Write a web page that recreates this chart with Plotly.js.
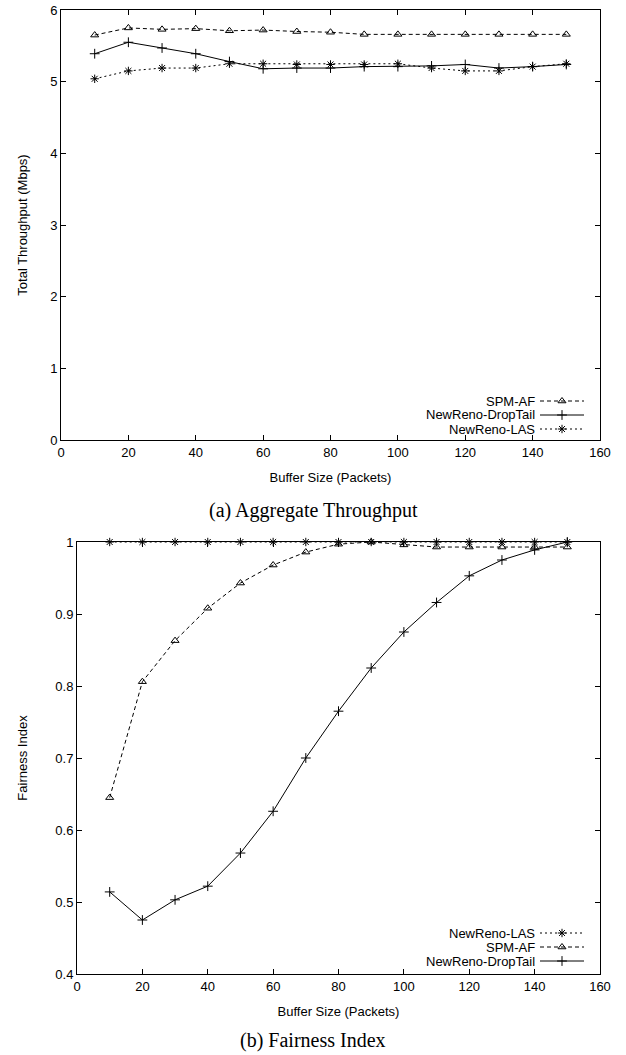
<!DOCTYPE html>
<html>
<head>
<meta charset="utf-8">
<script src="https://cdn.plot.ly/plotly-3.0.1.min.js"></script>
<style>html,body{margin:0;padding:0;background:#fff;}#chart{width:626px;height:1055px;}</style>
</head>
<body>
<div id="chart"></div>
<script>
// ---- data ----
const bufferSizes = [10, 20, 30, 40, 50, 60, 70, 80, 90, 100, 110, 120, 130, 140, 150];

const spmAfThroughput    = [5.65, 5.75, 5.73, 5.74, 5.71, 5.72, 5.70, 5.69, 5.66, 5.66, 5.66, 5.66, 5.66, 5.66, 5.66];
const dropTailThroughput = [5.39, 5.55, 5.47, 5.39, 5.28, 5.18, 5.19, 5.19, 5.21, 5.21, 5.22, 5.24, 5.19, 5.21, 5.24];
const lasThroughput      = [5.04, 5.15, 5.19, 5.19, 5.25, 5.25, 5.24, 5.24, 5.24, 5.25, 5.19, 5.15, 5.15, 5.21, 5.25];

const lasFairness      = [1.0, 1.0, 1.0, 1.0, 1.0, 1.0, 1.0, 1.0, 1.0, 1.0, 1.0, 1.0, 1.0, 1.0, 1.0];
const spmAfFairness    = [0.645, 0.806, 0.863, 0.908, 0.943, 0.968, 0.986, 0.997, 1.0, 0.996, 0.993, 0.993, 0.993, 0.993, 0.993];
const dropTailFairness = [0.514, 0.475, 0.503, 0.522, 0.568, 0.626, 0.700, 0.765, 0.825, 0.875, 0.916, 0.953, 0.975, 0.989, 1.0];

const xTicks = [0, 20, 40, 60, 80, 100, 120, 140, 160];
const yTicksTop = [0, 1, 2, 3, 4, 5, 6];
const yTicksBottom = [0.4, 0.5, 0.6, 0.7, 0.8, 0.9, 1];

const seriesNames = { spm: 'SPM-AF', drop: 'NewReno-DropTail', las: 'NewReno-LAS' };
const topLegendOrder = ['spm', 'drop', 'las'];
const bottomLegendOrder = ['las', 'spm', 'drop'];

// ---- styles ----
const W = 626, H = 1055;
const SANS = 'Liberation Sans, Arial, Helvetica, sans-serif';
const SERIF = 'Liberation Serif, Times New Roman, serif';
const styles = {
  spm:  { dash: '4px,3px', symbol: 'triangle-up-open', size: 7 },
  drop: { dash: 'solid',   symbol: 'cross-thin-open',  size: 7 },
  las:  { dash: '2px,3px', symbol: 'asterisk-open',    size: 7 }
};

function series(key, ys, xa, ya) {
  const s = styles[key];
  return {
    x: bufferSizes, y: ys, xaxis: xa, yaxis: ya, name: seriesNames[key],
    type: 'scatter', mode: 'lines+markers', showlegend: false, cliponaxis: false,
    line: { color: '#000', width: 1, dash: s.dash },
    marker: { symbol: s.symbol, size: s.size, color: '#000', line: { color: '#000', width: 1 } }
  };
}

const traces = [
  series('spm', spmAfThroughput, 'x', 'y'),
  series('drop', dropTailThroughput, 'x', 'y'),
  series('las', lasThroughput, 'x', 'y'),
  series('las', lasFairness, 'x2', 'y2'),
  series('spm', spmAfFairness, 'x2', 'y2'),
  series('drop', dropTailFairness, 'x2', 'y2')
];

// ---- custom legends (text left of sample, gnuplot style) ----
const annotations = [];
function addLegend(order, rowY) {
  order.forEach((key, i) => {
    const y = rowY[i];
    const s = styles[key];
    annotations.push({
      xref: 'paper', yref: 'paper', x: 537 / W, y: 1 - y / H,
      xanchor: 'right', yanchor: 'middle', showarrow: false,
      text: seriesNames[key], font: { family: SANS, size: 13, color: '#000' }
    });
    traces.push({
      x: [540, 584], y: [y, y], xaxis: 'x3', yaxis: 'y3', type: 'scatter', mode: 'lines',
      showlegend: false, hoverinfo: 'skip', line: { color: '#000', width: 1, dash: s.dash }
    });
    traces.push({
      x: [562], y: [y], xaxis: 'x3', yaxis: 'y3', type: 'scatter', mode: 'markers',
      showlegend: false, hoverinfo: 'skip', cliponaxis: false,
      marker: { symbol: s.symbol, size: s.size, color: '#000', line: { color: '#000', width: 1 } }
    });
  });
}
addLegend(topLegendOrder, [401, 415, 429]);
addLegend(bottomLegendOrder, [933, 947, 961]);

annotations.push({
  xref: 'paper', yref: 'paper', x: 313 / W, y: 1 - 510 / H, xanchor: 'center', yanchor: 'middle',
  showarrow: false, text: '(a) Aggregate Throughput', font: { family: SERIF, size: 20, color: '#000' }
});
annotations.push({
  xref: 'paper', yref: 'paper', x: 313 / W, y: 1 - 1040 / H, xanchor: 'center', yanchor: 'middle',
  showarrow: false, text: '(b) Fairness Index', font: { family: SERIF, size: 20, color: '#000' }
});

function axisBase(extra) {
  return Object.assign({
    showgrid: false, zeroline: false, showline: true, linecolor: '#000', linewidth: 1,
    mirror: 'allticks', ticks: 'inside', ticklen: 5, tickwidth: 1, tickcolor: '#000',
    tickfont: { family: SANS, size: 13, color: '#000' }, fixedrange: true
  }, extra);
}

const layout = {
  width: W, height: H,
  margin: { l: 0, r: 0, t: 0, b: 0, pad: 0 },
  paper_bgcolor: '#fff', plot_bgcolor: 'rgba(0,0,0,0)',
  showlegend: false,
  font: { family: SANS, size: 13, color: '#000' },
  xaxis: axisBase({
    domain: [61 / W, 600 / W], anchor: 'y', range: [0, 160], tickvals: xTicks,
    title: { text: 'Buffer Size (Packets)', font: { family: SANS, size: 13 }, standoff: 14 }
  }),
  yaxis: axisBase({
    domain: [1 - 440 / H, 1 - 10 / H], anchor: 'x', range: [0, 6], tickvals: yTicksTop,
    title: { text: 'Total Throughput (Mbps)', font: { family: SANS, size: 13 }, standoff: 19 }
  }),
  xaxis2: axisBase({
    domain: [77 / W, 600 / W], anchor: 'y2', range: [0, 160], tickvals: xTicks,
    title: { text: 'Buffer Size (Packets)', font: { family: SANS, size: 13 }, standoff: 14 }
  }),
  yaxis2: axisBase({
    domain: [1 - 974 / H, 1 - 542 / H], anchor: 'x2', range: [0.4, 1], tickvals: yTicksBottom,
    title: { text: 'Fairness Index', font: { family: SANS, size: 13 }, standoff: 24 }
  }),
  xaxis3: { domain: [0, 1], range: [0, W], visible: false, fixedrange: true, anchor: 'y3' },
  yaxis3: { domain: [0, 1], range: [H, 0], visible: false, fixedrange: true, anchor: 'x3' },
  annotations: annotations
};

Plotly.newPlot('chart', traces, layout, { staticPlot: true, displayModeBar: false });
</script>
</body>
</html>
